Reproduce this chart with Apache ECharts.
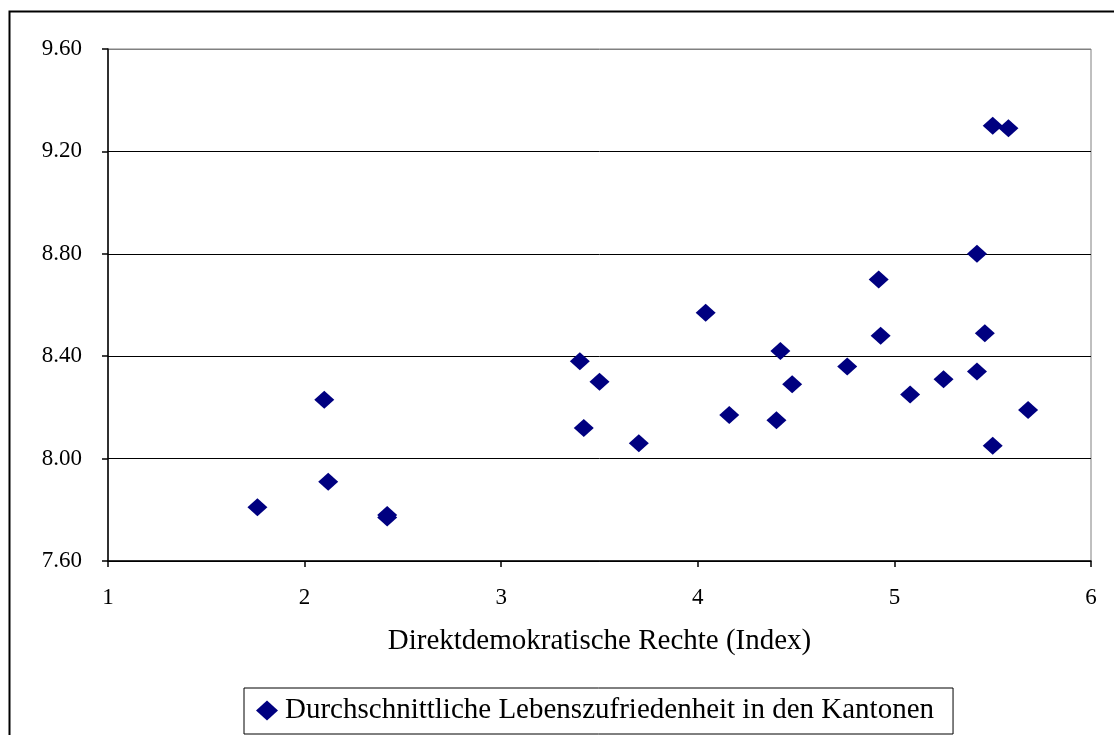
<!DOCTYPE html>
<html>
<head>
<meta charset="utf-8">
<script src="https://cdn.jsdelivr.net/npm/echarts@6/dist/echarts.min.js"></script>
<style>
html,body{margin:0;padding:0;background:#fff;}
#chart{width:1114px;height:735px;}
</style>
</head>
<body>
<div id="chart"></div>
<script>
// Direct-democracy index (x) vs average life satisfaction (y) per canton
var indexValues = [1.76, 2.10, 2.12, 2.42, 2.42, 3.40, 3.42, 3.50, 3.70, 4.04, 4.16, 4.40, 4.42, 4.48, 4.76, 4.92, 4.93, 5.08, 5.25, 5.42, 5.42, 5.46, 5.50, 5.50, 5.58, 5.68];
var satisfactionValues = [7.81, 8.23, 7.91, 7.78, 7.77, 8.38, 8.12, 8.30, 8.06, 8.57, 8.17, 8.15, 8.42, 8.29, 8.36, 8.70, 8.48, 8.25, 8.31, 8.80, 8.34, 8.49, 9.30, 8.05, 9.29, 8.19];
var xTicks = [1, 2, 3, 4, 5, 6];
var yTicks = [7.60, 8.00, 8.40, 8.80, 9.20, 9.60];
var seriesName = 'Durchschnittliche Lebenszufriedenheit in den Kantonen';
var xAxisName = 'Direktdemokratische Rechte (Index)';

var points = indexValues.map(function (x, i) { return [x, satisfactionValues[i]]; });
var font = 'Liberation Serif';

var chart = echarts.init(document.getElementById('chart'));
chart.setOption({
  backgroundColor: '#fff',
  animation: false,
  grid: {
    left: 108, right: 23, top: 49, bottom: 174,
    show: true, borderColor: '#808080', borderWidth: 1, backgroundColor: 'transparent'
  },
  xAxis: {
    type: 'value',
    min: xTicks[0], max: xTicks[xTicks.length - 1], interval: 1,
    name: xAxisName,
    nameLocation: 'middle',
    nameGap: 66,
    nameTextStyle: { fontFamily: font, fontSize: 29, color: '#000' },
    axisLine: { show: true, lineStyle: { color: '#000', width: 1.5 } },
    axisTick: { show: true, length: 6, lineStyle: { color: '#000', width: 1.5 } },
    axisLabel: { margin: 25, fontFamily: font, fontSize: 23, color: '#000' },
    splitLine: { show: false }
  },
  yAxis: {
    type: 'value',
    min: yTicks[0], max: yTicks[yTicks.length - 1], interval: 0.4,
    axisLine: { show: true, lineStyle: { color: '#000', width: 1.5 } },
    axisTick: { show: true, length: 6, lineStyle: { color: '#000', width: 1.5 } },
    axisLabel: {
      margin: 26, fontFamily: font, fontSize: 23, color: '#000',
      formatter: function (v) { return v.toFixed(2); }
    },
    splitLine: { show: true, lineStyle: { color: ['#000', '#000', '#000', '#000', '#000', '#808080'], width: 1 } }
  },
  legend: {
    show: true,
    data: [seriesName],
    left: 244, top: 688,
    borderColor: '#000', borderWidth: 1,
    padding: [8, 19, 9, 12],
    itemWidth: 22, itemHeight: 20,
    itemGap: 4,
    icon: 'diamond',
    textStyle: { fontFamily: font, fontSize: 29, color: '#000', padding: [0, 0, 0, 2] }
  },
  graphic: [{
    type: 'rect',
    shape: { x: 9.5, y: 11.5, width: 1300, height: 900 },
    style: { fill: 'none', stroke: '#000', lineWidth: 2 },
    silent: true, z: 100
  }],
  series: [{
    name: seriesName,
    type: 'scatter',
    symbol: 'diamond',
    symbolSize: [20, 18],
    itemStyle: { color: '#000080', opacity: 1 },
    data: points
  }]
});
</script>
</body>
</html>
